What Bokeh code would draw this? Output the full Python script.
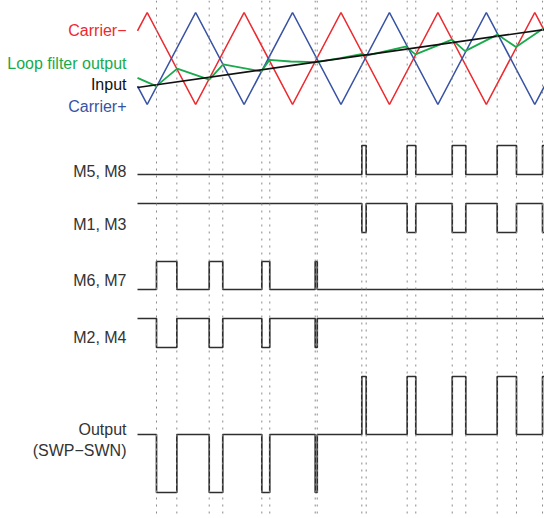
from bokeh.plotting import figure
from bokeh.models import Range1d, Label, Span
from bokeh.embed import file_html
from bokeh.resources import INLINE

# ---------------- data (time in carrier periods) ----------------
carrier_t = [0.0, 0.1, 0.6, 1.1, 1.6, 2.1, 2.6, 3.1, 3.6, 4.1, 4.2]
carrier_minus = [0.6, 1, -1, 1, -1, 1, -1, 1, -1, 1, 0.6]
carrier_plus = [-v for v in carrier_minus]

input_t = [0.0, 4.2]
input_v = [-0.63, 0.63]

loop_t = [0.0, 0.193, 0.41, 0.74, 0.884, 1.277, 1.362, 1.579, 1.837, 2.095,
          2.322, 2.36, 2.766, 2.869, 3.246, 3.38, 3.715, 3.906, 4.18, 4.2]
loop_v = [-0.42, -0.60, -0.22, -0.46, -0.13, -0.28, -0.03, -0.065, -0.08, 0.01,
          0.10, 0.06, 0.26, 0.09, 0.41, 0.16, 0.52, 0.25, 0.64, 0.65]

# positive output pulses (M5, M8 on / M1, M3 off)
pos_start = [2.315, 2.783, 3.248, 3.712, 4.180]
pos_end = [2.360, 2.872, 3.388, 3.911, 4.30]
# negative output pulses (M6, M7 on / M2, M4 off)
neg_start = [0.196, 0.740, 1.283, 1.834]
neg_end = [0.406, 0.880, 1.365, 1.855]

T_END = 4.2

top_labels = ["Carrier\u2212", "Loop filter output", "Input", "Carrier+"]
lane_labels = ["M5, M8", "M1, M3", "M6, M7", "M2, M4"]
out_labels = ["Output", "(SWP\u2212SWN)"]

# ---------------- layout / style ----------------
W, H = 544, 518
X0_PX = 137.0
PX_PER_T = 96.9
TOP_MID, TOP_AMP = 58.0, 46.0
FONT = "Liberation Sans"
FS = "16px"
RED, BLUE, GREEN, BLACK = "#ec2a2f", "#3853a4", "#18aa4b", "#111111"
DIG = "#2e2e2e"


def pulse_train(starts, ends, inverted=False):
    lo, hi = (1, 0) if inverted else (0, 1)
    xs, ys = [0.0], [lo]
    for s, e in zip(starts, ends):
        xs += [s, s]
        ys += [lo, hi]
        if e < T_END:
            xs += [e, e]
            ys += [hi, lo]
        else:
            xs += [T_END]
            ys += [hi]
    if xs[-1] < T_END:
        xs.append(T_END)
        ys.append(ys[-1])
    return xs, ys


p = figure(width=W, height=H, output_backend="svg", toolbar_location=None,
           x_range=Range1d(-X0_PX / PX_PER_T, (W - X0_PX) / PX_PER_T),
           y_range=Range1d(H, 0), x_axis_location=None, y_axis_location=None,
           min_border=0, outline_line_color=None, background_fill_color="white")
p.grid.visible = False

# dotted vertical guides at every switching edge
for t in sorted(pos_start + [e for e in pos_end if e < T_END] + neg_start + neg_end):
    p.add_layout(Span(location=t, dimension="height", line_color="#8a8a8a",
                      line_width=1, line_dash="2 5"))

# top panel
def top_y(vals):
    return [TOP_MID - v * TOP_AMP for v in vals]

p.line(carrier_t, top_y(carrier_minus), line_color=RED, line_width=1.6)
p.line(carrier_t, top_y(carrier_plus), line_color=BLUE, line_width=1.6)
p.line(loop_t, top_y(loop_v), line_color=GREEN, line_width=1.8)
p.line(input_t, top_y(input_v), line_color=BLACK, line_width=1.6)

# digital lanes
xs, ys = pulse_train(pos_start, pos_end)
p.line(xs, [174 - s * 29 for s in ys], line_color=DIG, line_width=1.7)
xs, ys = pulse_train(pos_start, pos_end, inverted=True)
p.line(xs, [232 - s * 29 for s in ys], line_color=DIG, line_width=1.7)
xs, ys = pulse_train(neg_start, neg_end)
p.line(xs, [289 - s * 28 for s in ys], line_color=DIG, line_width=1.7)
xs, ys = pulse_train(neg_start, neg_end, inverted=True)
p.line(xs, [347 - s * 29 for s in ys], line_color=DIG, line_width=1.7)

# output = positive pulses - negative pulses
edges = sorted([(s, 1) for s in pos_start] + [(e, -1) for e in pos_end if e < T_END] +
               [(s, -1) for s in neg_start] + [(e, 1) for e in neg_end])
ox, ov, lvl = [0.0], [0], 0
for t, d in edges:
    ox += [t, t]
    ov += [lvl, lvl + d]
    lvl += d
ox.append(T_END)
ov.append(lvl)
p.line(ox, [434 - v * 58 for v in ov], line_color=DIG, line_width=1.7)

# labels
def add_label(text, y, color):
    p.add_layout(Label(x=126, x_units="screen", y=y, y_units="data", text=text,
                       text_align="right", text_baseline="alphabetic",
                       text_font=FONT, text_font_size=FS, text_color=color))

for txt, y, c in zip(top_labels, [29.5, 63, 84, 106], [RED, GREEN, BLACK, BLUE]):
    add_label(txt, y, c)
for txt, y in zip(lane_labels, [170.5, 224, 279.5, 336.5]):
    add_label(txt, y, "#333333")
for txt, y in zip(out_labels, [428.5, 449.5]):
    add_label(txt, y, "#333333")

open("out.html", "w").write(file_html(p, INLINE))
